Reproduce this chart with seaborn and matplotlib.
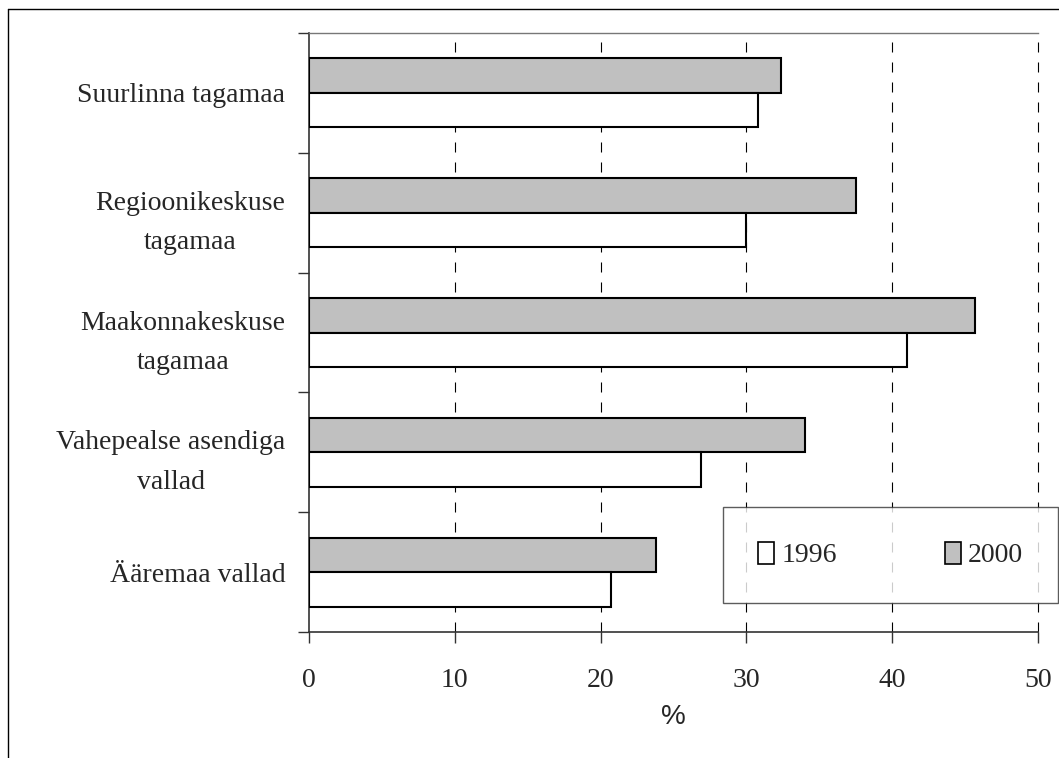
import matplotlib
matplotlib.use("Agg")
import pandas as pd
import seaborn as sns
import matplotlib.pyplot as plt
from matplotlib.patches import Patch
from matplotlib.lines import Line2D

categories = ["Suurlinna tagamaa", "Regioonikeskuse\ntagamaa",
              "Maakonnakeskuse\ntagamaa", "Vahepealse asendiga\nvallad",
              "Ääremaa vallad"]
years = ["1996", "2000"]
values_1996 = [30.8, 30.0, 41.0, 26.9, 20.7]
values_2000 = [32.4, 37.5, 45.7, 34.0, 23.8]
x_ticks = [0, 10, 20, 30, 40, 50]

df = pd.DataFrame({
    "kategooria": categories * 2,
    "aasta": ["2000"] * 5 + ["1996"] * 5,
    "protsent": values_2000 + values_1996,
})

sns.set_style("white")
plt.rcParams["font.family"] = ["Liberation Serif", "DejaVu Serif"]

fig = plt.figure(figsize=(10.59, 7.58), dpi=100)
ax = fig.add_axes([309 / 1059, 1 - 632 / 758, 729 / 1059, 599 / 758])

colors = {"1996": "white", "2000": "#c0c0c0"}
sns.barplot(data=df, y="kategooria", x="protsent", hue="aasta",
            hue_order=["2000", "1996"], order=categories, palette=colors,
            width=0.575, edgecolor="black", linewidth=1.5, ax=ax,
            legend=False, zorder=3)

ax.set_xlim(0, 50)
ax.set_ylim(4.5, -0.5)
ax.set_xticks(x_ticks)
ax.set_xticklabels([str(t) for t in x_ticks], fontsize=20)
ax.set_yticks(range(len(categories)))
ax.set_yticklabels(categories, fontsize=20)
for lab in ax.get_yticklabels():
    lab.set_multialignment("center")
    lab.set_linespacing(1.75)
ax.set_yticks([i - 0.5 for i in range(len(categories) + 1)], minor=True)
ax.tick_params(axis="y", which="major", length=0, pad=17)
ax.tick_params(axis="y", which="minor", length=8, width=1, color="#333333",
               direction="out", left=True)
ax.tick_params(axis="x", length=8, width=1, color="#333333",
               direction="out", bottom=True, pad=18)

# dashed vertical gridlines
for t in x_ticks[1:]:
    ax.axvline(t, color="black", lw=0.8, linestyle=(0, (9, 9)), zorder=1,
               clip_on=False)

for side in ["left", "bottom"]:
    ax.spines[side].set_color("#333333")
    ax.spines[side].set_linewidth(1.2)
ax.spines["top"].set_color("#777777")
ax.spines["top"].set_linewidth(1)
ax.spines["right"].set_visible(False)

ax.set_ylabel("")
ax.set_xlabel("%", fontsize=20, family=["Liberation Sans", "DejaVu Sans"],
              labelpad=8)

handles = [Patch(facecolor=colors[y], edgecolor="black", linewidth=1.2)
           for y in years]
leg = fig.legend(handles, years, loc="upper left", ncol=2, mode="expand",
                 bbox_to_anchor=(723 / 1059, 1 - 598 / 758,
                                 335 / 1059, 91 / 758),
                 fontsize=20, frameon=True, fancybox=False,
                 handlelength=0.6, handleheight=0.85, handletextpad=0.25,
                 borderpad=1.25, borderaxespad=0)
leg.get_frame().set_edgecolor("#333333")
leg.get_frame().set_linewidth(1)

# outer frame of the figure
fig.add_artist(Line2D([8 / 1059, 8 / 1059], [0, 1 - 9 / 758],
                      transform=fig.transFigure, color="black", lw=1))
fig.add_artist(Line2D([8 / 1059, 1], [1 - 9 / 758, 1 - 9 / 758],
                      transform=fig.transFigure, color="black", lw=1))

fig.savefig("out.png", dpi=100)
